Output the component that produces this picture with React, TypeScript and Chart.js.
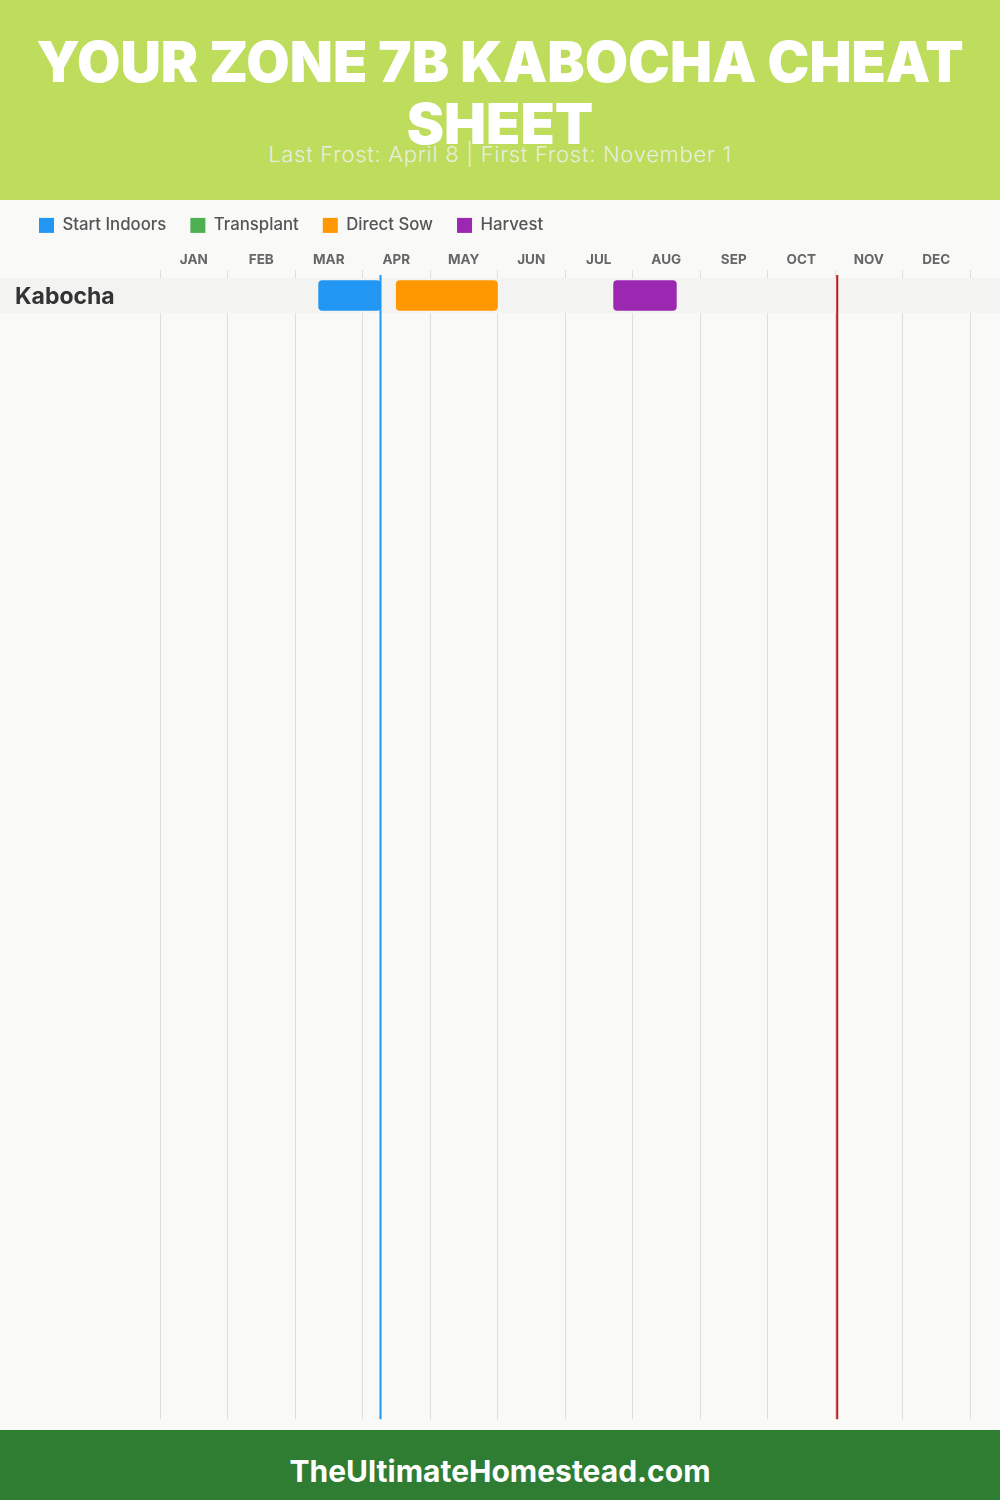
import React, { useEffect, useRef } from "react";
import { Chart, registerables } from "chart.js";

Chart.register(...registerables);

const MONTHS = ["JAN", "FEB", "MAR", "APR", "MAY", "JUN", "JUL", "AUG", "SEP", "OCT", "NOV", "DEC"];
const CROPS = ["Kabocha"];
// values in months from Jan 1 (month index + day / days in month)
const START_INDOORS: number[][] = [[2.35, 3.267]];
const TRANSPLANT: number[][] = [];
const DIRECT_SOW: number[][] = [[3.5, 5.0]];
const HARVEST: number[][] = [[6.72, 7.65]];
const LAST_FROST = 3.267;
const FIRST_FROST = 10.033;

const TITLE_LINE_1 = "YOUR ZONE 7B KABOCHA CHEAT";
const TITLE_LINE_2 = "SHEET";
const SUBTITLE = "Last Frost: April 8 | First Frost: November 1";
const FOOTER = "TheUltimateHomestead.com";

const FONT = "Inter, 'Open Sans', sans-serif";

export default function App() {
  const canvasRef = useRef<HTMLCanvasElement | null>(null);

  useEffect(() => {
    const canvas = canvasRef.current;
    if (!canvas) return;

    const toData = (arr: number[][]) =>
      arr.map((r, i) => ({ x: r, y: i + 0.5 }));

    const bandPlugin = {
      id: "rowBands",
      beforeDatasetsDraw(chart: any) {
        const { ctx, width } = chart;
        const y = chart.scales.y;
        ctx.save();
        ctx.fillStyle = "#f3f3f1";
        CROPS.forEach((_, i) => {
          const top = y.getPixelForValue(i);
          const bottom = y.getPixelForValue(i + 1);
          ctx.fillRect(0, top, width, bottom - top);
        });
        ctx.restore();
      },
    };

    const frostPlugin = {
      id: "frostLines",
      afterDatasetsDraw(chart: any) {
        const { ctx, chartArea } = chart;
        const x = chart.scales.x;
        const lines = [
          { v: LAST_FROST, c: "#2196F3" },
          { v: FIRST_FROST, c: "#B71C1C" },
        ];
        ctx.save();
        lines.forEach((l) => {
          const px = x.getPixelForValue(l.v);
          ctx.strokeStyle = l.c;
          ctx.lineWidth = 2;
          ctx.beginPath();
          ctx.moveTo(px, chartArea.top - 3);
          ctx.lineTo(px, chartArea.bottom);
          ctx.stroke();
        });
        ctx.restore();
      },
    };

    const common = {
      barThickness: 30,
      borderRadius: 4,
      borderSkipped: false,
      grouped: false,
    };

    const chart = new Chart(canvas, {
      type: "bar",
      data: {
        datasets: [
          { label: "Start Indoors", data: toData(START_INDOORS), backgroundColor: "#2196F3", ...common },
          { label: "Transplant", data: toData(TRANSPLANT), backgroundColor: "#4CAF50", ...common },
          { label: "Direct Sow", data: toData(DIRECT_SOW), backgroundColor: "#FF9800", ...common },
          { label: "Harvest", data: toData(HARVEST), backgroundColor: "#9C27B0", ...common },
        ] as any,
      },
      options: {
        indexAxis: "y",
        responsive: false,
        animation: false,
        layout: { padding: { left: 15, right: 30, top: 1, bottom: 0 } },
        plugins: {
          legend: {
            position: "top",
            align: "start",
            maxHeight: 44,
            labels: {
              boxWidth: 15,
              boxHeight: 15,
              padding: 24,
              color: "#555",
              font: { family: FONT, size: 16.8, weight: 500 },
            },
            onClick: () => {},
          } as any,
          tooltip: { enabled: false },
        },
        scales: {
          x: {
            type: "linear",
            position: "top",
            min: 0,
            max: 12,
            afterBuildTicks: (scale: any) => {
              scale.ticks = MONTHS.concat([""]).map((_, i) => ({ value: i }));
            },
            afterFit: (scale: any) => {
              scale.height = 41;
            },
            ticks: {
              autoSkip: false,
              maxRotation: 0,
              padding: 2,
              labelOffset: 33.75,
              color: "#666",
              font: { family: FONT, size: 13.5, weight: 700 },
              callback: (v: any) => MONTHS[v as number] ?? "",
            },
            grid: { color: "#dedede", lineWidth: 1, tickLength: 8, drawTicks: true },
            border: { display: false },
          },
          y: {
            type: "linear",
            position: "left",
            reverse: true,
            offset: false,
            min: 0,
            max: 1142.4 / 35,
            afterBuildTicks: (scale: any) => {
              scale.ticks = CROPS.map((_, i) => ({ value: i + 0.5 }));
            },
            afterFit: (scale: any) => {
              scale.width = 145;
            },
            ticks: {
              z: 1,
              crossAlign: "far",
              padding: 0,
              labelOffset: 1.5,
              color: "#333",
              font: { family: FONT, size: 23, weight: 700 },
              callback: (v: any) => CROPS[Math.floor(v as number)] ?? "",
            },
            grid: { display: false, offset: false },
            border: { display: false },
          },
        } as any,
      },
      plugins: [bandPlugin, frostPlugin],
    });

    return () => chart.destroy();
  }, []);

  return (
    <div
      style={{
        position: "relative",
        width: 1000,
        height: 1500,
        background: "#f9f9f7",
        overflow: "hidden",
        fontFamily: FONT,
      }}
    >
      <style>{`body{margin:0}`}</style>
      <div style={{ position: "absolute", left: 0, top: 192, width: 1000, height: 1241 }}>
        <canvas ref={canvasRef} width={1000} height={1241} style={{ display: "block" }} />
      </div>
      <div
        style={{
          position: "absolute",
          left: 0,
          top: 0,
          width: 1000,
          height: 200,
          background: "#BEDD5C",
          zIndex: 2,
          textAlign: "center",
        }}
      >
        <div
          style={{
            position: "absolute",
            left: 0,
            top: 31,
            width: 1000,
            color: "#fff",
            fontWeight: 900,
            fontSize: 56,
            lineHeight: "62px",
            letterSpacing: 0,
          }}
        >
          {TITLE_LINE_1}
          <br />
          {TITLE_LINE_2}
        </div>
        <div
          style={{
            position: "absolute",
            left: 0,
            top: 141,
            width: 1000,
            color: "rgba(240,240,240,0.9)",
            fontWeight: 300,
            fontSize: 22,
            letterSpacing: 0.7,
            lineHeight: "26px",
          }}
        >
          {SUBTITLE}
        </div>
      </div>
      <div
        style={{
          position: "absolute",
          left: 0,
          top: 1430,
          width: 1000,
          height: 58,
          paddingTop: 12,
          background: "#2E7D32",
          color: "#fff",
          fontWeight: 700,
          fontSize: 30,
          lineHeight: "58px",
          textAlign: "center",
          zIndex: 2,
        }}
      >
        {FOOTER}
      </div>
    </div>
  );
}
